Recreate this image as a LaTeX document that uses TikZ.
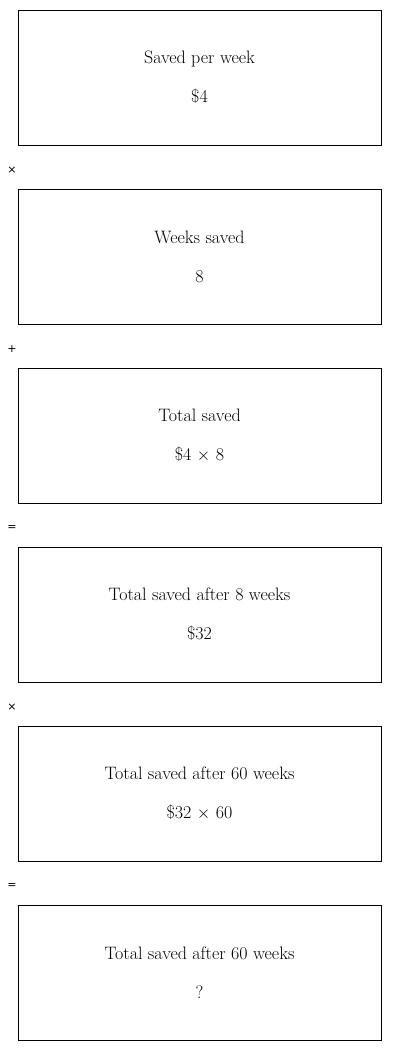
\documentclass[tikz,border=0pt]{standalone}
\usepackage{fontspec}
\newfontfamily\opfont{DejaVu Sans}
\usetikzlibrary{positioning}
\tikzset{
  stepbox/.style={draw=black, line width=0.8pt, outer sep=0pt, minimum width=363pt, minimum height=135pt,
    align=center, font=\fontsize{18}{39}\selectfont},
  op/.style={font=\opfont\fontsize{11}{13}\selectfont, inner sep=0pt}
}

\begin{document}
\begin{tikzpicture}[x=1pt, y=1pt]

    \useasboundingbox (0,0) rectangle (400,-1051);

    \node[stepbox] (perweek) at (199.5, -77.5) {Saved per week\\\$4};
    \node[stepbox, below=44pt of perweek] (weeks) {Weeks saved\\8};
    \node[stepbox, below=44pt of weeks] (total) {Total saved\\\$4 $\times$ 8};
    \node[stepbox, below=44pt of total] (after8) {Total saved after 8 weeks\\\$32};
    \node[stepbox, below=44pt of after8] (after60) {Total saved after 60 weeks\\\$32 $\times$ 60};
    \node[stepbox, below=44pt of after60] (answer) {Total saved after 60 weeks\\?};

    % operators between the boxes
    \node[op] (times1) at (12, -170) {×};
    \node[op] (plus) at (12, -349) {+};
    \node[op] (eq1) at (12, -528) {=};
    \node[op] (times2) at (12, -707) {×};
    \node[op] (eq2) at (12, -886) {=};

\end{tikzpicture}
\end{document}
